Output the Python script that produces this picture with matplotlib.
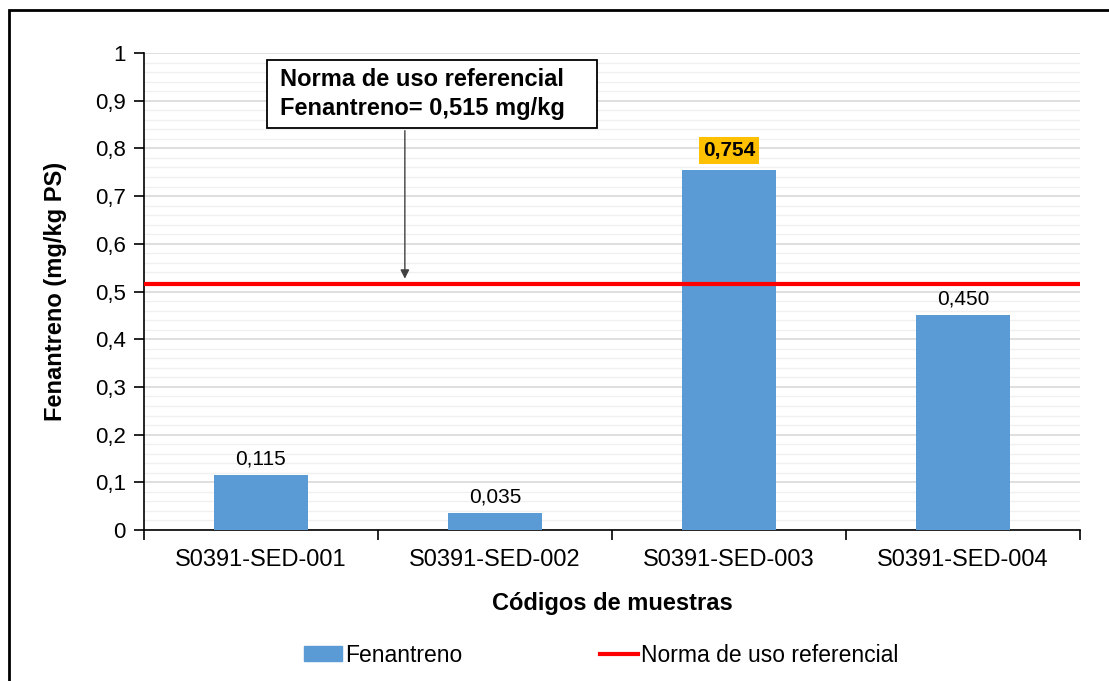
import matplotlib.pyplot as plt
import matplotlib.patches as patches
from matplotlib.lines import Line2D
from matplotlib.ticker import MultipleLocator, FuncFormatter

plt.rcParams['font.family'] = ['Liberation Sans', 'DejaVu Sans']

samples = ["S0391-SED-001", "S0391-SED-002", "S0391-SED-003", "S0391-SED-004"]
fenantreno = [0.115, 0.035, 0.754, 0.450]
norma = 0.515

bar_color = "#5B9BD5"
line_color = "#FF0000"


def comma(v, pos=None):
    if abs(v) < 1e-9:
        return "0"
    if abs(v - 1) < 1e-9:
        return "1"
    return f"{v:.1f}".replace(".", ",")


fig = plt.figure(figsize=(11.09, 6.81), dpi=100)
ax = fig.add_axes([0.1298, 0.2217, 0.8440, 0.7005])

x = list(range(len(samples)))
ax.bar(x, fenantreno, width=0.4, color=bar_color, zorder=3)
ax.axhline(norma, color=line_color, lw=3, zorder=4)

ax.set_xlim(-0.5, len(samples) - 0.5)
ax.set_ylim(0, 1)
ax.yaxis.set_major_locator(MultipleLocator(0.1))
ax.yaxis.set_minor_locator(MultipleLocator(0.02))
ax.yaxis.set_major_formatter(FuncFormatter(comma))
ax.grid(axis="y", which="major", color="#D9D9D9", lw=1.2, zorder=0)
ax.grid(axis="y", which="minor", color="#F0F0F0", lw=1.0, zorder=0)

ax.set_xticks(x)
ax.set_xticklabels(samples)
ax.set_xticks([i + 0.5 for i in range(-1, len(samples))], minor=True)
ax.tick_params(axis="x", which="major", length=0, labelsize=17, pad=14)
ax.tick_params(axis="x", which="minor", length=7, width=1.2, direction="out")
ax.tick_params(axis="y", which="major", length=7, width=1.2, direction="out", labelsize=16, pad=6)
ax.tick_params(axis="y", which="minor", length=0)

for s in ["top", "right"]:
    ax.spines[s].set_visible(False)
ax.spines["left"].set_linewidth(1.2)
ax.spines["bottom"].set_linewidth(1.2)

for i, v in enumerate(fenantreno):
    txt = f"{v:.3f}".replace(".", ",")
    if v > norma:
        ax.text(i, v + 0.022, txt, ha="center", va="bottom", fontsize=15, fontweight="bold",
                bbox=dict(boxstyle="square,pad=0.2", fc="#FFC000", ec="none"), zorder=5)
    else:
        ax.text(i, v + 0.014, txt, ha="center", va="bottom", fontsize=15, zorder=5)

ax.set_ylabel("Fenantreno (mg/kg PS)", fontsize=17, fontweight="bold", labelpad=20)
ax.set_xlabel("Códigos de muestras", fontsize=17, fontweight="bold", labelpad=15)

# annotation box with arrow to the reference line
ax.annotate("", xy=(0.615, norma + 0.006), xytext=(0.615, 0.843),
            arrowprops=dict(arrowstyle="-|>", color="#404040", lw=1, mutation_scale=13), zorder=6)
ax.add_patch(patches.Rectangle((0.026, 0.843), 1.41, 0.142, fc="white", ec="black", lw=1.3, zorder=7))
ax.text(0.081, 0.914, "Norma de uso referencial\nFenantreno= 0,515 mg/kg", ha="left", va="center",
        fontsize=17, fontweight="bold", linespacing=1.3, zorder=8)

handles = [patches.Patch(color=bar_color), Line2D([], [], color=line_color, lw=3)]
labels = ["Fenantreno", "Norma de uso referencial"]
fig.legend(handles, labels, loc="center", bbox_to_anchor=(0.542, 0.038), ncol=2, frameon=False,
           fontsize=16.5, handlelength=1.65, handleheight=0.6, handletextpad=0.15, columnspacing=6.0)

fig.patches.append(patches.Rectangle((9 / 1109, -0.05), 1.1, 1.05 - 10 / 681, fill=False,
                                     ec="black", lw=2, transform=fig.transFigure))

fig.savefig("out.png", dpi=100)
